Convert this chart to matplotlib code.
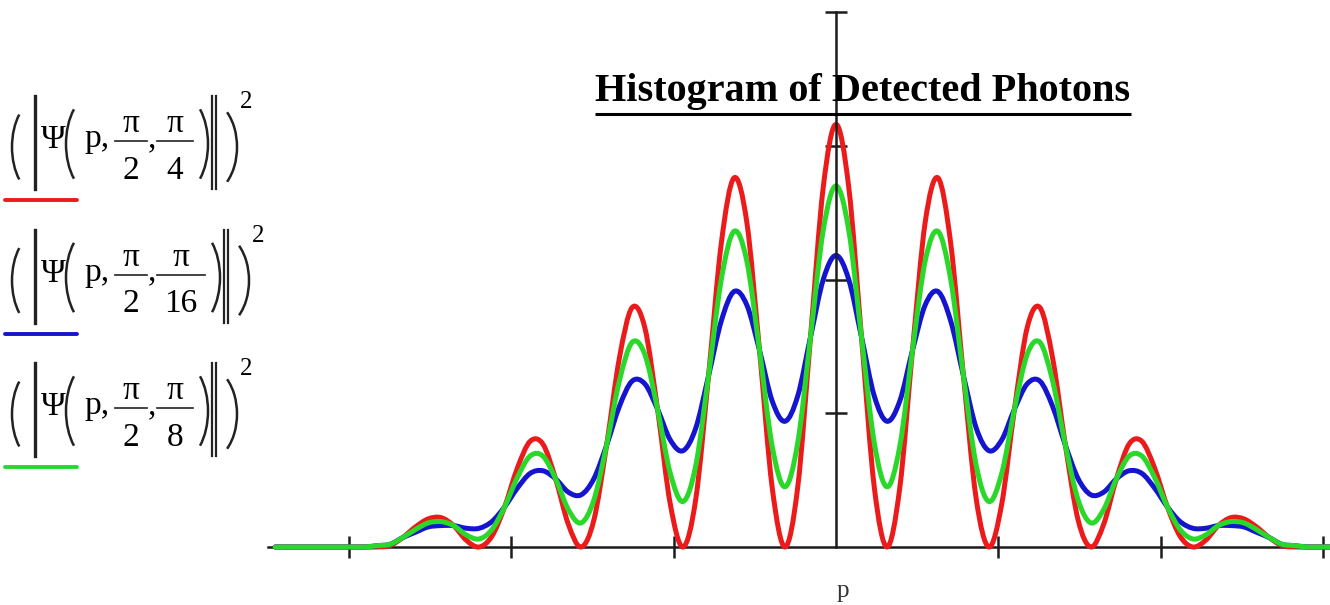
import numpy as np
import matplotlib.pyplot as plt
from matplotlib.path import Path
from matplotlib.patches import PathPatch, Arc

# sample index k, p = k * pi / 8, k from -44 to 44
k = np.arange(-44, 45)
p = k * np.pi / 8

# |Psi(p, pi/2, pi/4)|^2  (red)
red = [0.00, 0.00, 0.00, 0.00, 0.00, 0.00, 0.00, 0.00, 0.00, 0.01, 0.07, 0.15, 0.21, 0.22, 0.16,
       0.05, 0.00, 0.08, 0.30, 0.59, 0.79, 0.77, 0.51, 0.17, 0.00, 0.20, 0.76, 1.41, 1.79, 1.64,
       1.03, 0.32, 0.00, 0.36, 1.28, 2.27, 2.76, 2.43, 1.47, 0.44, 0.00, 0.45, 1.57, 2.69,
       3.16,
       2.69, 1.57, 0.45, 0.00, 0.44, 1.47, 2.43, 2.76, 2.27, 1.28, 0.36, 0.00, 0.32, 1.03, 1.64,
       1.79, 1.41, 0.76, 0.20, 0.00, 0.17, 0.51, 0.77, 0.79, 0.59, 0.30, 0.08, 0.00, 0.05, 0.16,
       0.22, 0.21, 0.15, 0.07, 0.01, 0.00, 0.00, 0.00, 0.00, 0.00, 0.00, 0.00, 0.00, 0.00]

# |Psi(p, pi/2, pi/16)|^2  (blue)
blue = [0.00, 0.00, 0.00, 0.00, 0.00, 0.00, 0.00, 0.00, 0.01, 0.02, 0.07, 0.11, 0.15, 0.16, 0.16,
        0.14, 0.14, 0.19, 0.30, 0.44, 0.55, 0.57, 0.51, 0.41, 0.39, 0.51, 0.76, 1.05, 1.24, 1.22,
        1.03, 0.80, 0.72, 0.89, 1.28, 1.69, 1.91, 1.81, 1.47, 1.09, 0.94, 1.13, 1.57, 2.00,
        2.18,
        2.00, 1.57, 1.13, 0.94, 1.09, 1.47, 1.81, 1.91, 1.69, 1.28, 0.89, 0.72, 0.80, 1.03, 1.22,
        1.24, 1.05, 0.76, 0.51, 0.39, 0.41, 0.51, 0.57, 0.55, 0.44, 0.30, 0.19, 0.14, 0.14, 0.16,
        0.16, 0.15, 0.11, 0.07, 0.02, 0.01, 0.00, 0.00, 0.00, 0.00, 0.00, 0.00, 0.00, 0.00]

# |Psi(p, pi/2, pi/8)|^2  (green)
green = [0.00, 0.00, 0.00, 0.00, 0.00, 0.00, 0.00, 0.00, 0.01, 0.02, 0.07, 0.13, 0.18, 0.19, 0.16,
         0.09, 0.06, 0.13, 0.30, 0.52, 0.68, 0.68, 0.51, 0.28, 0.18, 0.35, 0.76, 1.24, 1.53, 1.44,
         1.03, 0.55, 0.34, 0.61, 1.28, 2.00, 2.36, 2.14, 1.47, 0.75, 0.45, 0.78, 1.57, 2.37,
         2.70,
         2.37, 1.57, 0.78, 0.45, 0.75, 1.47, 2.14, 2.36, 2.00, 1.28, 0.61, 0.34, 0.55, 1.03, 1.44,
         1.53, 1.24, 0.76, 0.35, 0.18, 0.28, 0.51, 0.68, 0.68, 0.52, 0.30, 0.13, 0.06, 0.09, 0.16,
         0.19, 0.18, 0.13, 0.07, 0.02, 0.01, 0.00, 0.00, 0.00, 0.00, 0.00, 0.00, 0.00, 0.00]

# legend: third argument of Psi for each trace
denoms = ['4', '16', '8']
colors = ['#ec1b1b', '#1515cf', '#2ad82a']


def smooth_path(x, y):
    # Catmull-Rom curve through the listed points
    x = np.asarray(x, float)
    y = np.asarray(y, float)
    xp = np.concatenate([[x[0]], x, [x[-1]]])
    yp = np.concatenate([[y[0]], y, [y[-1]]])
    verts = [(x[0], y[0])]
    codes = [Path.MOVETO]
    for i in range(len(x) - 1):
        c1 = (x[i] + (xp[i + 2] - xp[i]) / 6, y[i] + (yp[i + 2] - yp[i]) / 6)
        c2 = (x[i + 1] - (xp[i + 3] - xp[i + 1]) / 6, y[i + 1] - (yp[i + 3] - yp[i + 1]) / 6)
        verts += [c1, c2, (x[i + 1], y[i + 1])]
        codes += [Path.CURVE4] * 3
    return Path(verts, codes)


W, H = 1330, 605
fig = plt.figure(figsize=(W / 100, H / 100), dpi=100)
ax = fig.add_axes([268 / W, 58 / H, 1136 / W, 535 / H])
ax.set_xlim(-17.5, 17.5)
ax.set_ylim(0, 4)

for y, c in zip([red, blue, green], colors):
    ax.add_patch(PathPatch(smooth_path(p, y), fill=False, edgecolor=c, lw=3.6,
                           capstyle='round', joinstyle='round', clip_on=False, zorder=2))

ax.spines['top'].set_visible(False)
ax.spines['right'].set_visible(False)
ax.spines['left'].set_position(('data', 0))
ax.spines['left'].set_zorder(3)
ax.spines['bottom'].set_zorder(1)
for s in ['left', 'bottom']:
    ax.spines[s].set_linewidth(1.8)
    ax.spines[s].set_color('#1c1c1c')
ax.set_xticks([-15, -10, -5, 5, 10, 15])
ax.set_yticks([1, 2, 3, 4])
ax.tick_params(direction='inout', length=16.5, width=1.8, color='#1c1c1c',
               labelbottom=False, labelleft=False)
ax.patch.set_visible(False)

# overlay in pixel coordinates (y down) for title, axis name and legend
lax = fig.add_axes([0, 0, 1, 1], zorder=5)
lax.set_xlim(0, W)
lax.set_ylim(H, 0)
lax.axis('off')
lax.patch.set_visible(False)

serif = 'Liberation Serif'
lax.text(843, 597, 'p', family=serif, fontsize=18, color='#333333',
         ha='center', va='baseline')

title = lax.text(863, 101, 'Histogram of Detected Photons', family=serif,
                 fontweight='bold', fontsize=29, ha='center', va='baseline')
fig.canvas.draw()
bb = title.get_window_extent()
lax.plot([bb.x0, bb.x1], [114, 114], color='black', lw=2.2, solid_capstyle='butt')


def paren(x0, x1, yc, h, left=True):
    # thin tall bracket drawn as an elliptic arc between x0 and x1
    dx = x1 - x0
    w = 4 * dx
    he = h / np.sin(np.radians(120))
    if left:
        lax.add_patch(Arc((x0 + w / 2, yc), w, he, theta1=120, theta2=240,
                          lw=1.8, color='#222222'))
    else:
        lax.add_patch(Arc((x1 - w / 2, yc), w, he, theta1=-60, theta2=60,
                          lw=1.8, color='#222222'))


def entry(yc, den, color):
    e = 12 if len(den) > 1 else 0
    fs = 24
    paren(12, 25, yc + 6, 81)
    lax.plot([35, 35], [yc - 45, yc + 48], color='#222222', lw=2.4)
    lax.text(53, yc + 7, '\u03a8', family=serif, fontsize=fs, ha='center', va='baseline')
    paren(66, 80, yc + 3, 86)
    lax.text(84, yc + 6, 'p,', family=serif, fontsize=fs, ha='left', va='baseline')
    # pi / 2
    lax.plot([115, 147], [yc, yc], color='#222222', lw=1.2)
    lax.text(131, yc - 9, '\u03c0', family=serif, fontsize=fs, ha='center', va='baseline')
    lax.text(131, yc + 38, '2', family=serif, fontsize=fs, ha='center', va='baseline')
    lax.text(148, yc + 6, ',', family=serif, fontsize=fs, ha='left', va='baseline')
    # pi / den
    lax.plot([157, 193 + e], [yc, yc], color='#222222', lw=1.2)
    lax.text(175 + e / 2, yc - 9, '\u03c0', family=serif, fontsize=fs, ha='center', va='baseline')
    lax.text(175 + e / 2, yc + 38, den, family=serif, fontsize=fs, ha='center', va='baseline')
    paren(194 + e, 208 + e, yc + 3, 86, left=False)
    lax.plot([212 + e, 212 + e], [yc - 45, yc + 48], color='#222222', lw=1.6)
    lax.plot([216 + e, 216 + e], [yc - 45, yc + 48], color='#222222', lw=1.6)
    paren(222 + e, 237 + e, yc + 6, 81, left=False)
    lax.text(246 + e, yc - 33, '2', family=serif, fontsize=18, ha='center', va='baseline')


for i, (den, c) in enumerate(zip(denoms, colors)):
    yc = 141 + 133.5 * i
    entry(yc, den, c)
    lax.plot([5, 77], [200 + 133.5 * i] * 2, color=c, lw=2.8, solid_capstyle='round')

fig.savefig('out.png', dpi=100)
